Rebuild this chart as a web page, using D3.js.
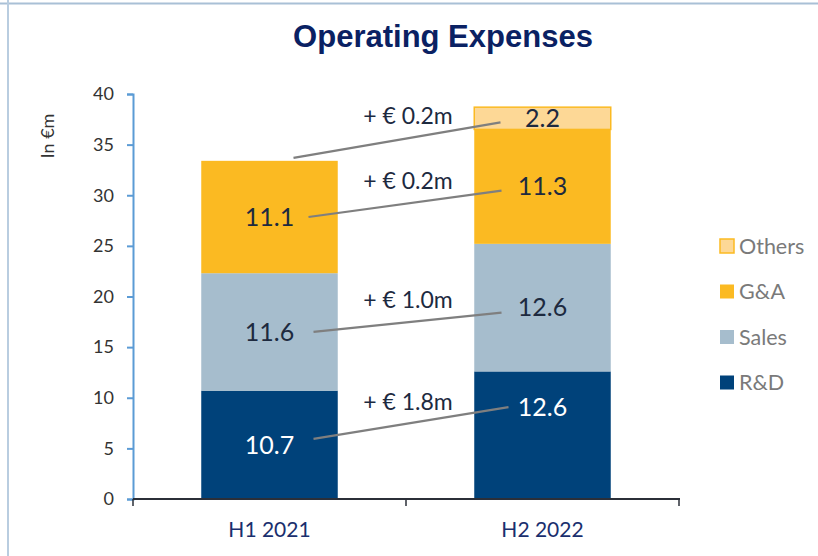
<!DOCTYPE html>
<html>
<head>
<meta charset="utf-8">
<script src="https://cdn.jsdelivr.net/npm/d3@7"></script>
<style>
  body { margin: 0; background: #fff; }
  svg { display: block; }
</style>
</head>
<body>
<svg id="chart" width="818" height="556"></svg>
<script>
// chart values
var periods = ["H1 2021", "H2 2022"];
var seriesNames = ["R&D", "Sales", "G&A", "Others"];
var rnd = [10.7, 12.6];
var sales = [11.6, 12.6];
var gna = [11.1, 11.3];
var others = [0, 2.2];
var changes = ["+ € 1.8m", "+ € 1.0m", "+ € 0.2m", "+ € 0.2m"];
var yTicks = [0, 5, 10, 15, 20, 25, 30, 35, 40];

var colors = { "R&D": "#00427a", "Sales": "#a6bdcd", "G&A": "#fbba22", "Others": "#fdd896" };
var labelColors = { "R&D": "#ffffff", "Sales": "#1d2a3f", "G&A": "#1d2a3f", "Others": "#1d2a3f" };

var svg = d3.select("#chart");
var font = "Lato, 'Open Sans', sans-serif";

// frame of the slide
svg.append("line").attr("x1", 0).attr("x2", 818).attr("y1", 3.5).attr("y2", 3.5)
  .attr("stroke", "#a9c0d6").attr("stroke-width", 2);
svg.append("line").attr("x1", 8).attr("x2", 8).attr("y1", 0).attr("y2", 556)
  .attr("stroke", "#b9cde0").attr("stroke-width", 2);

svg.append("text")
  .attr("x", 443).attr("y", 47)
  .attr("text-anchor", "middle")
  .style("font-family", "'Liberation Sans', Arial, sans-serif")
  .style("font-weight", "bold")
  .style("font-size", "31px")
  .attr("fill", "#0a2163")
  .text("Operating Expenses");

var x = d3.scaleBand().domain(periods).range([133, 679]).paddingInner(0.5).paddingOuter(0.25);
var y = d3.scaleLinear().domain([0, 40]).range([499, 94]);

var rows = periods.map(function(p, i) {
  return { period: p, "R&D": rnd[i], "Sales": sales[i], "G&A": gna[i], "Others": others[i] };
});
var stacked = d3.stack().keys(seriesNames)(rows);

var layers = svg.append("g").selectAll("g")
  .data(stacked).enter().append("g")
  .attr("fill", function(d) { return colors[d.key]; });

layers.selectAll("rect")
  .data(function(d) { return d.map(function(v) { v.key = d.key; return v; }); })
  .enter().append("rect")
  .filter(function(d) { return d[1] - d[0] > 0; })
  .attr("x", function(d) { return x(d.data.period); })
  .attr("width", x.bandwidth())
  .attr("y", function(d) { return y(d[1]); })
  .attr("height", function(d) { return y(d[0]) - y(d[1]); })
  .attr("stroke", function(d) { return d.key == "Others" ? "#fbba22" : "none"; })
  .attr("stroke-width", 1.5);

// value labels (middle of each segment, except H2 R&D which sits higher)
var labelY = function(d, i) {
  if (d.key == "R&D" && i == 1) return y(d[0] + (d[1] - d[0]) * 0.72);
  return y((d[0] + d[1]) / 2);
};
layers.each(function(layer) {
  d3.select(this).selectAll("text")
    .data(layer.filter(function(d) { return d[1] - d[0] > 0; }))
    .enter().append("text")
    .attr("x", function(d) { return x(d.data.period) + x.bandwidth() / 2; })
    .attr("y", function(d) { return labelY(d, periods.indexOf(d.data.period)); })
    .attr("dy", "0.35em")
    .attr("text-anchor", "middle")
    .style("font-family", font)
    .style("font-size", "25px")
    .attr("fill", labelColors[layer.key])
    .text(function(d) { return (d[1] - d[0]).toFixed(1); });
});

// connector lines between the two periods
var x1 = x(periods[0]) + x.bandwidth() / 2, x2 = x(periods[1]) + x.bandwidth() / 2;
var conn = [
  { a: y(rnd[0] / 2) - 6, b: labelY(stacked[0][1], 1), x1: x1 + 44, x2: x2 - 34, t: changes[0] },
  { a: y(stacked[1][0][0] + sales[0] / 2), b: y(stacked[1][1][0] + sales[1] / 2) + 5, x1: x1 + 44, x2: x2 - 41, t: changes[1] },
  { a: y(stacked[2][0][0] + gna[0] / 2), b: y(stacked[2][1][0] + gna[1] / 2) + 4, x1: x1 + 39, x2: x2 - 41, t: changes[2] },
  { a: y(stacked[2][0][1]) - 3, b: y(stacked[3][1][0] + others[1] / 2) + 4, x1: x1 + 24, x2: x2 - 42, t: changes[3] }
];
var textX = 408;
var lineAt = function(d, px) { return d.a + (d.b - d.a) * (px - d.x1) / (d.x2 - d.x1); };
var cg = svg.append("g");
cg.selectAll("line").data(conn).enter().append("line")
  .attr("x1", function(d) { return d.x1; })
  .attr("y1", function(d) { return d.a; })
  .attr("x2", function(d) { return d.x2; })
  .attr("y2", function(d) { return d.b; })
  .attr("stroke", "#7f7f7f").attr("stroke-width", 2.2);
cg.selectAll("text").data(conn).enter().append("text")
  .attr("x", textX)
  .attr("y", function(d) { return lineAt(d, textX) - 22; })
  .attr("dy", "0.35em")
  .attr("text-anchor", "middle")
  .style("font-family", font)
  .style("font-size", "23px")
  .attr("fill", "#1d2a3f")
  .text(function(d) { return d.t; });

// y axis
var yAxis = svg.append("g").attr("transform", "translate(133,0)")
  .call(d3.axisLeft(y).tickValues(yTicks).tickSize(6).tickPadding(13));
yAxis.select(".domain").attr("stroke", "#5b9bd5").attr("stroke-width", 2);
yAxis.selectAll(".tick line").attr("stroke", "#5b9bd5").attr("stroke-width", 2);
yAxis.selectAll("text").style("font-family", font).style("font-size", "18px").attr("fill", "#333");

svg.append("text")
  .attr("transform", "translate(48,136) rotate(-90)")
  .attr("dy", "0.35em")
  .attr("text-anchor", "middle")
  .style("font-family", font)
  .style("font-size", "18px")
  .attr("fill", "#333")
  .text("In €m");

// x axis
var xAxisG = svg.append("g").attr("transform", "translate(0,499)");
xAxisG.append("line").attr("x1", 133).attr("x2", 680).attr("stroke", "#2b2f38").attr("stroke-width", 2);
xAxisG.selectAll("line.tk").data([133, 406, 679]).enter().append("line")
  .attr("class", "tk")
  .attr("x1", function(d) { return d; }).attr("x2", function(d) { return d; })
  .attr("y1", 0).attr("y2", 7)
  .attr("stroke", "#2b2f38").attr("stroke-width", 1.5);
xAxisG.selectAll("text").data(periods).enter().append("text")
  .attr("x", function(d) { return x(d) + x.bandwidth() / 2; })
  .attr("y", 38)
  .attr("text-anchor", "middle")
  .style("font-family", font)
  .style("font-size", "21px")
  .attr("fill", "#1a2f6e")
  .text(function(d) { return d; });

// legend
var legend = svg.append("g").selectAll("g")
  .data(seriesNames.slice().reverse()).enter().append("g")
  .attr("transform", function(d, i) { return "translate(720," + (239 + i * 45.5) + ")"; });
legend.append("rect")
  .attr("width", 14).attr("height", 14)
  .attr("fill", function(d) { return colors[d]; })
  .attr("stroke", function(d) { return d == "Others" ? "#fbba22" : "none"; })
  .attr("stroke-width", 1.5);
legend.append("text")
  .attr("x", 19).attr("y", 7).attr("dy", "0.36em")
  .style("font-family", font)
  .style("font-size", "21.5px")
  .attr("fill", "#7a7a7a")
  .text(function(d) { return d; });
</script>
</body>
</html>
